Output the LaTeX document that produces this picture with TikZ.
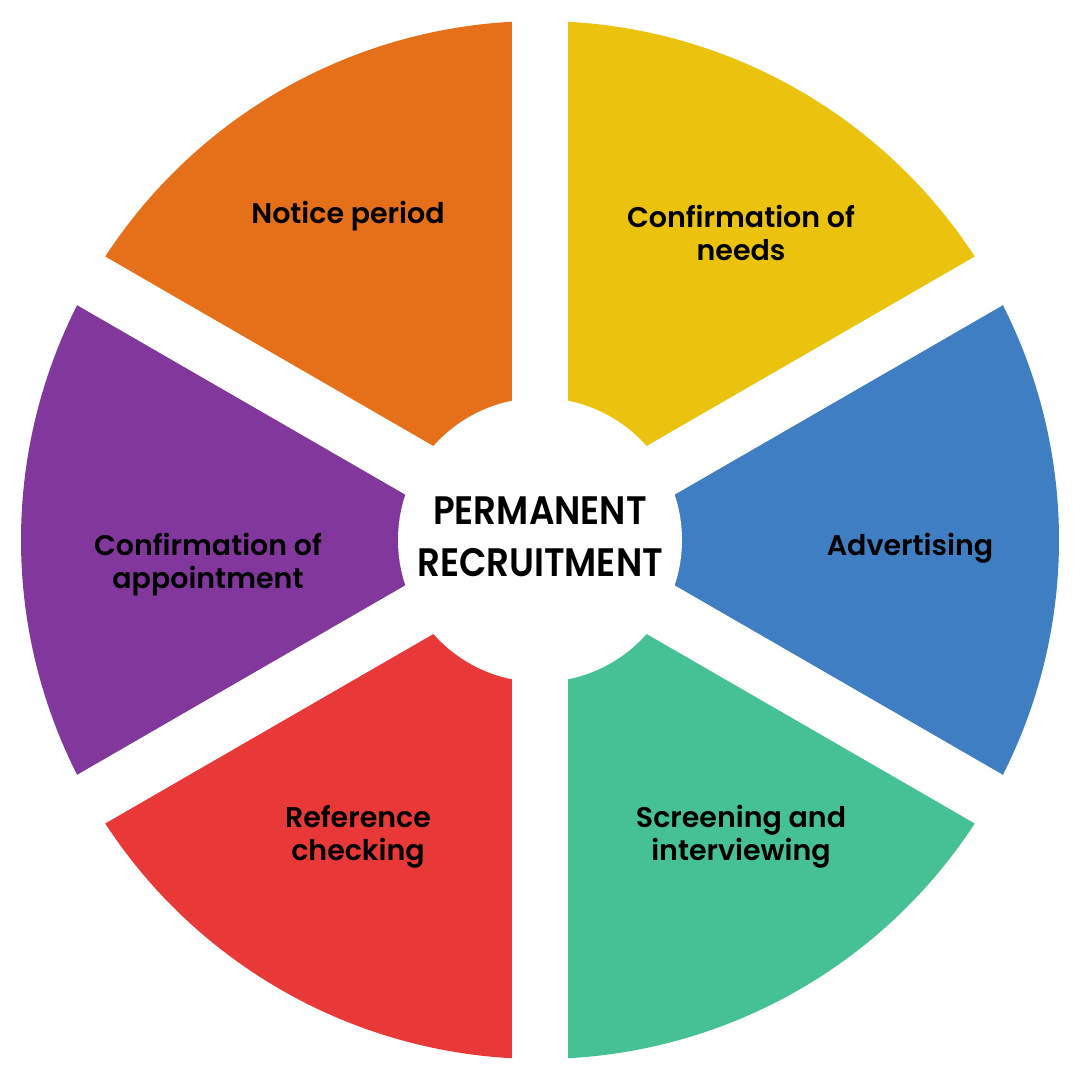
\documentclass[tikz,border=0pt]{standalone}
\usepackage{fontspec}
\setmainfont{Poppins}[BoldFont={Poppins SemiBold}]
\newfontfamily\titlefont{Poppins}[BoldFont={Poppins SemiBold}, FakeStretch=0.9]

\definecolor{noticeorange}{HTML}{E57019}
\definecolor{needsyellow}{HTML}{EBC30E}
\definecolor{advertblue}{HTML}{3F7EC2}
\definecolor{screengreen}{HTML}{46C194}
\definecolor{refred}{HTML}{E93838}
\definecolor{apptpurple}{HTML}{82379C}

\begin{document}
\begin{tikzpicture}
    [
        gap/.style={draw=white, line width=0.56cm,},
        hub/.style={circle, fill=white, inner sep=0pt, minimum size=2.84cm,},
        label/.style={align=center, font=\bfseries\fontsize{8.1}{9.4}\selectfont,},
        title/.style={align=center, font=\titlefont\bfseries\fontsize{11.3}{14.7}\selectfont,},
    ]
    \useasboundingbox (-5.4,-5.4) rectangle (5.4,5.4);

    % slices
    \fill [needsyellow]  (0,0) -- (90:5.19)  arc (90:30:5.19)    -- cycle;
    \fill [advertblue]   (0,0) -- (30:5.19)  arc (30:-30:5.19)   -- cycle;
    \fill [screengreen]  (0,0) -- (-30:5.19) arc (-30:-90:5.19)  -- cycle;
    \fill [refred]       (0,0) -- (-90:5.19) arc (-90:-150:5.19) -- cycle;
    \fill [apptpurple]   (0,0) -- (210:5.19) arc (210:150:5.19)  -- cycle;
    \fill [noticeorange] (0,0) -- (150:5.19) arc (150:90:5.19)   -- cycle;

    % gaps between the slices
    \coordinate (o)  at (0,0);
    \coordinate (e1) at (90:5.6);
    \coordinate (e2) at (30:5.6);
    \coordinate (e3) at (-30:5.6);
    \coordinate (e4) at (-90:5.6);
    \coordinate (e5) at (-150:5.6);
    \coordinate (e6) at (150:5.6);
    \draw [gap] (o) -- (e1);
    \draw [gap] (o) -- (e2);
    \draw [gap] (o) -- (e3);
    \draw [gap] (o) -- (e4);
    \draw [gap] (o) -- (e5);
    \draw [gap] (o) -- (e6);

    \node (c) at (0,0) [hub] {};

    % labels
    \node (notice) at (-1.92,3.235)  [label] {Notice period};
    \node (needs)  at (2.01,3.07)    [label] {Confirmation of\\needs};
    \node (advert) at (3.70,-0.085)  [label] {Advertising};
    \node (screen) at (2.01,-2.97)   [label] {Screening and\\interviewing};
    \node (ref)    at (-1.82,-2.97)  [label] {Reference\\checking};
    \node (appt)   at (-3.32,-0.25)  [label] {Confirmation of\\appointment};

    \node (perm) at (0,0.03) [title] {PERMANENT\\RECRUITMENT};
\end{tikzpicture}
\end{document}
